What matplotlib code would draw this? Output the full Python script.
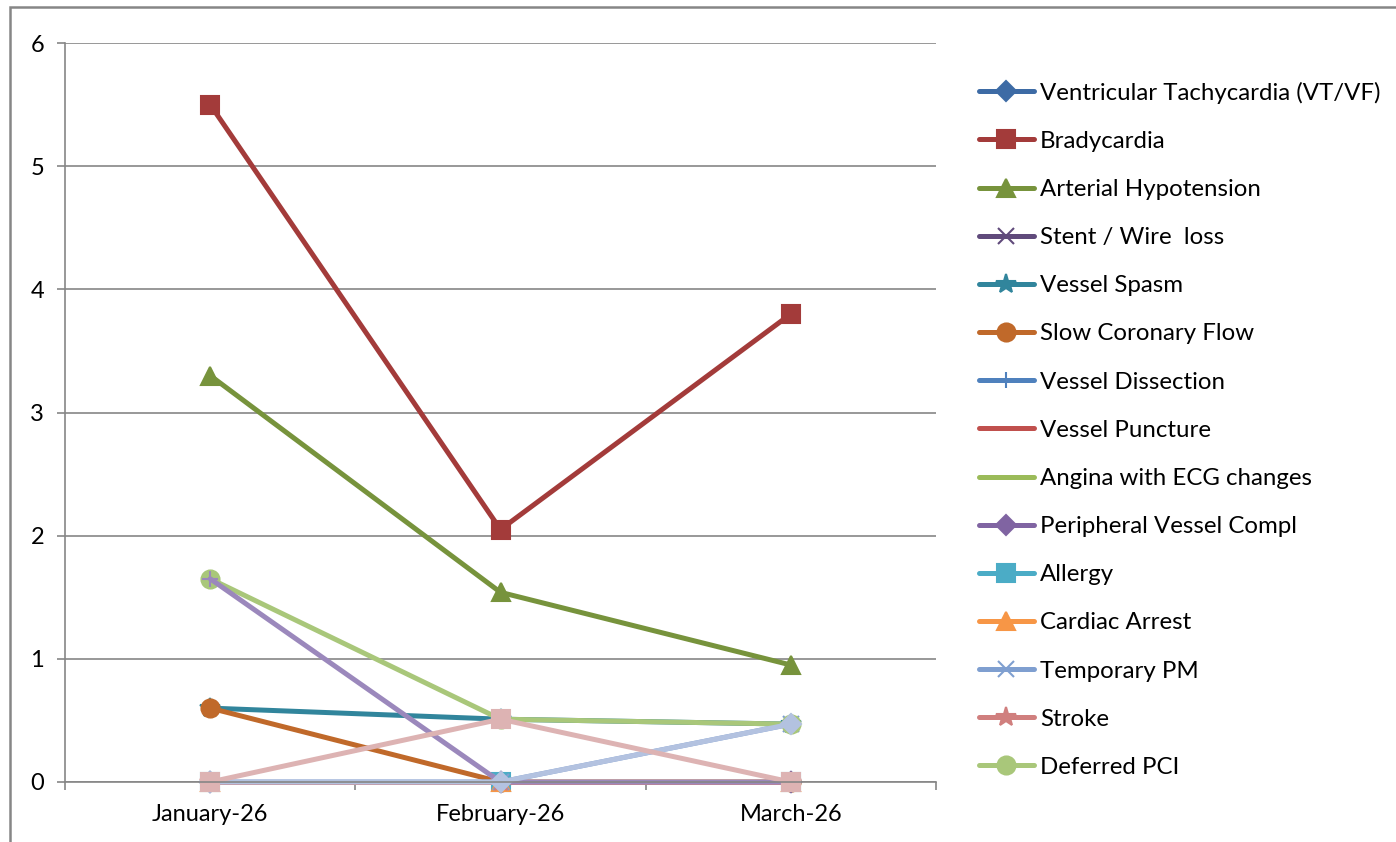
import matplotlib.pyplot as plt
from matplotlib.patches import Rectangle

plt.rcParams['font.family'] = ['Lato', 'DejaVu Sans']

months = ['January-26', 'February-26', 'March-26']

# legend series
vt_vf = [0, 0, 0]
bradycardia = [5.5, 2.05, 3.8]
hypotension = [3.3, 1.54, 0.95]
stent_wire = [0, 0, 0]
vessel_spasm = [0.6, 0.51, 0.47]
slow_flow = [0.6, 0, 0]
dissection = [0, 0, 0]
puncture = [0, 0, 0]
angina = [0, 0, 0]
peripheral = [0, 0, 0]
allergy = [0, 0, 0]
cardiac_arrest = [0, 0, 0]
temp_pm = [0, 0, 0.47]
stroke = [0, 0, 0]
deferred_pci = [1.65, 0.51, 0.47]
# extra series drawn in the chart but cut off from the legend
extra_lavender = [1.65, 0, 0]
extra_blue = [0, 0, 0.47]
extra_pink = [0, 0.51, 0]

series = [
    ('Ventricular Tachycardia (VT/VF)', vt_vf, '#3D6BA5', 'D'),
    ('Bradycardia', bradycardia, '#A33B3A', 's'),
    ('Arterial Hypotension', hypotension, '#77933C', '^'),
    ('Stent / Wire  loss', stent_wire, '#604A7B', 'x'),
    ('Vessel Spasm', vessel_spasm, '#31859C', '*'),
    ('Slow Coronary Flow', slow_flow, '#C0692A', 'o'),
    ('Vessel Dissection', dissection, '#4F81BD', '|'),
    ('Vessel Puncture', puncture, '#C0504D', None),
    ('Angina with ECG changes', angina, '#9BBB59', None),
    ('Peripheral Vessel Compl', peripheral, '#8064A2', 'D'),
    ('Allergy', allergy, '#4BACC6', 's'),
    ('Cardiac Arrest', cardiac_arrest, '#F79646', '^'),
    ('Temporary PM', temp_pm, '#7F9FD0', 'x'),
    ('Stroke', stroke, '#D07F7E', '*'),
    ('Deferred PCI', deferred_pci, '#A9C77A', 'o'),
    ('_nolegend_', extra_lavender, '#9B88BC', '+'),
    ('_nolegend_', extra_blue, '#B3C2E0', 'D'),
    ('_nolegend_', extra_pink, '#DDB3B3', 's'),
]

marker_sizes = {'D': 10, 's': 13, '^': 13, 'o': 13, 'x': 11, '+': 12, '|': 12, '*': 15}

fig = plt.figure(figsize=(13.96, 8.42), dpi=100)
ax = fig.add_axes([65 / 1396, 1 - 782 / 842, (936 - 65) / 1396, (782 - 43) / 842])

x = range(len(months))
for label, vals, color, marker in series:
    ax.plot(x, vals, color=color, lw=3.6, marker=marker,
            markersize=marker_sizes.get(marker, 10),
            markeredgecolor=color, markeredgewidth=1.5, label=label,
            solid_capstyle='round', clip_on=False)

ax.set_xlim(-0.5, 2.5)
ax.set_ylim(0, 6)
ax.set_yticks(range(0, 7))
ax.set_xticks(list(x))
ax.set_xticklabels(months)
ax.set_xticks([-0.5, 0.5, 1.5, 2.5], minor=True)
ax.tick_params(axis='x', which='major', length=0, pad=16, labelsize=17)
ax.tick_params(axis='x', which='minor', length=6, width=1.2, color='#868686', direction='out')
ax.tick_params(axis='y', length=6, width=1.2, color='#868686', direction='out', pad=9, labelsize=17)
ax.grid(axis='y', color='#868686', lw=1.2)
ax.set_axisbelow(True)
for side in ('top', 'right'):
    ax.spines[side].set_visible(False)
for side in ('left', 'bottom'):
    ax.spines[side].set_color('#868686')
    ax.spines[side].set_linewidth(1.2)

fig.legend(loc='upper left', bbox_to_anchor=(957 / 1396, 1 - 60 / 842), frameon=False,
           fontsize=17.3, handlelength=2.3, labelspacing=1.13, handletextpad=0.25,
           markerscale=1.0)

# outer chart border
fig.add_artist(Rectangle((10 / 1396, -0.1), 1.2, 1.1 - 7 / 842, transform=fig.transFigure,
                         fill=False, edgecolor='#868686', lw=1.8))

fig.savefig('out.png', dpi=100)
